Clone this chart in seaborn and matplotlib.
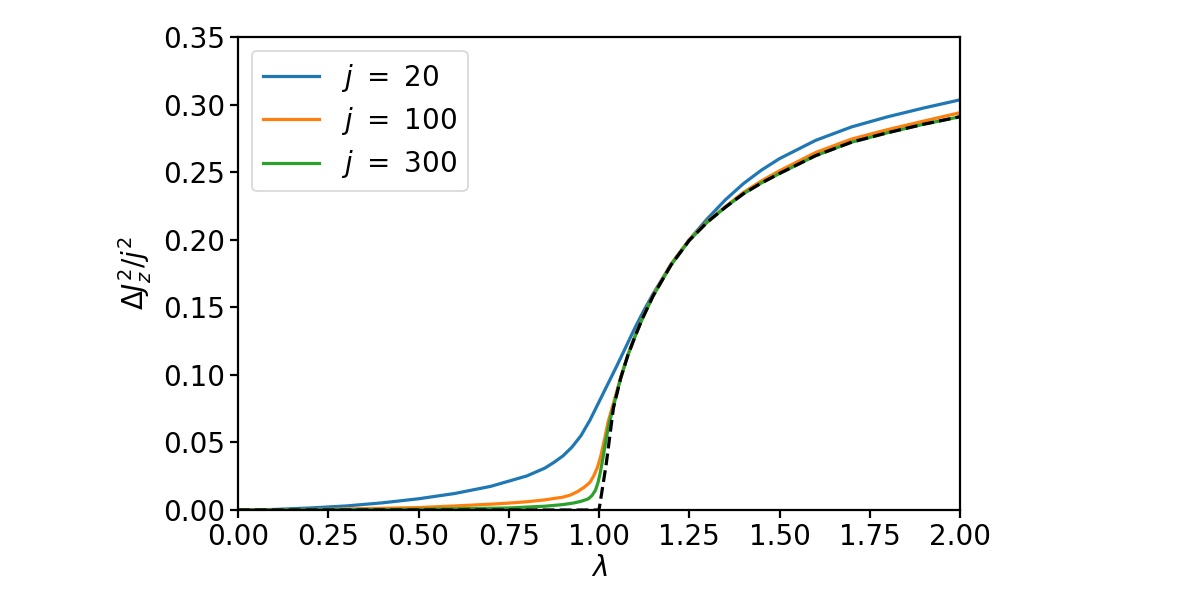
import numpy as np
import pandas as pd
import seaborn as sns
import matplotlib
matplotlib.use("Agg")
import matplotlib.pyplot as plt

# values
lam_20 = [0.0, 0.1, 0.2, 0.3, 0.4, 0.5, 0.6, 0.7, 0.8, 0.85, 0.875, 0.9, 0.925, 0.95,
          0.975, 1.0, 1.025, 1.05, 1.075, 1.1, 1.125, 1.15, 1.2, 1.25, 1.3, 1.35, 1.4,
          1.45, 1.5, 1.6, 1.7, 1.8, 1.9, 2.0]
var_20 = [0.0, 0.0004, 0.0015, 0.003, 0.0053, 0.0083, 0.0122, 0.0175, 0.0252, 0.031,
          0.0352, 0.040, 0.0465, 0.055, 0.0665, 0.080, 0.0935, 0.107, 0.121, 0.135,
          0.148, 0.160, 0.182, 0.200, 0.2155, 0.2295, 0.2415, 0.2515, 0.260, 0.2735,
          0.2835, 0.291, 0.2975, 0.3035]

lam_100 = [0.0, 0.25, 0.5, 0.6, 0.7, 0.75, 0.8, 0.85, 0.9, 0.92, 0.94, 0.96, 0.975,
           0.985, 0.995, 1.005, 1.015, 1.025, 1.04, 1.06, 1.08, 1.1, 1.12, 1.15, 1.2,
           1.25, 1.3, 1.35, 1.4, 1.45, 1.5, 1.6, 1.7, 1.8, 1.9, 2.0]
var_100 = [0.0, 0.0005, 0.0018, 0.003, 0.0043, 0.0051, 0.0061, 0.0075, 0.0095, 0.011,
           0.0135, 0.017, 0.0205, 0.025, 0.031, 0.040, 0.052, 0.065, 0.079, 0.098,
           0.115, 0.129, 0.142, 0.159, 0.182, 0.2, 0.2135, 0.2245, 0.235, 0.2435, 0.251,
           0.2645, 0.2745, 0.2815, 0.2878, 0.294]

lam_300 = [0.0, 0.5, 0.75, 0.85, 0.9, 0.93, 0.95, 0.97, 0.98, 0.99, 0.997, 1.003, 1.01,
           1.02, 1.03, 1.04, 1.06, 1.08, 1.1, 1.12, 1.15, 1.2, 1.25, 1.3, 1.35, 1.4,
           1.45, 1.5, 1.6, 1.7, 1.8, 1.9, 2.0]
var_300 = [0.0, 0.0005, 0.0015, 0.0028, 0.004, 0.0052, 0.0064, 0.0082, 0.0105, 0.0145,
           0.020, 0.027, 0.037, 0.053, 0.066, 0.0765, 0.0975, 0.1145, 0.1285, 0.1415,
           0.1585, 0.1815, 0.1995, 0.213, 0.224, 0.234, 0.242, 0.249, 0.2622, 0.2722,
           0.2792, 0.2855, 0.291]

lam_inf = [0.0, 1.0, 1.02, 1.04, 1.06, 1.08, 1.1, 1.12, 1.15, 1.2, 1.25, 1.3, 1.35, 1.4,
           1.45, 1.5, 1.6, 1.7, 1.8, 1.9, 2.0]
var_inf = [0.0, 0.0, 0.034, 0.0755, 0.0975, 0.1145, 0.1285, 0.1415, 0.1585, 0.1815,
           0.1995, 0.213, 0.224, 0.234, 0.242, 0.249, 0.2622, 0.2722, 0.2792, 0.2855, 0.291]

labels = [r'$j\ =\ 20$', r'$j\ =\ 100$', r'$j\ =\ 300$']

df = pd.concat([
    pd.DataFrame({'lam': lam_20, 'var': var_20, 'j': labels[0]}),
    pd.DataFrame({'lam': lam_100, 'var': var_100, 'j': labels[1]}),
    pd.DataFrame({'lam': lam_300, 'var': var_300, 'j': labels[2]}),
])

plt.rcParams['font.size'] = 20
plt.rcParams['axes.linewidth'] = 1.6
plt.rcParams['mathtext.default'] = 'regular'

fig = plt.figure(figsize=(12, 6), dpi=100)
ax = fig.add_axes([238 / 1200, 90 / 600, 722 / 1200, 473 / 600])

sns.lineplot(data=df, x='lam', y='var', hue='j', hue_order=labels,
             palette=['#1f77b4', '#ff7f0e', '#2ca02c'], linewidth=2.3,
             sort=False, ax=ax)
sns.lineplot(x=lam_inf, y=var_inf, color='black', linestyle='--', linewidth=2.3,
             sort=False, ax=ax)

ax.set_xlim(0, 2)
ax.set_ylim(0, 0.35)
ax.set_xticks(np.arange(0, 2.01, 0.25))
ax.set_yticks(np.arange(0, 0.351, 0.05))
ax.xaxis.set_major_formatter(matplotlib.ticker.FormatStrFormatter('%.2f'))
ax.yaxis.set_major_formatter(matplotlib.ticker.FormatStrFormatter('%.2f'))
ax.tick_params(length=6, width=1.6, labelsize=20)
ax.set_xlabel(r'$\mathit{\lambda}$', fontsize=20, labelpad=2)
ax.set_ylabel(r'$\Delta \mathit{J}_\mathit{z}^2/\mathit{j}^2$', fontsize=20, labelpad=6)

leg = ax.legend(loc='upper left', fontsize=20, frameon=True, borderaxespad=0.5,
                labelspacing=0.4)
for t in leg.get_texts():
    t.set_text(t.get_text().replace('j', r'\mathit{j}'))
leg.get_frame().set_linewidth(1.2)

fig.savefig('out.png', dpi=100)
